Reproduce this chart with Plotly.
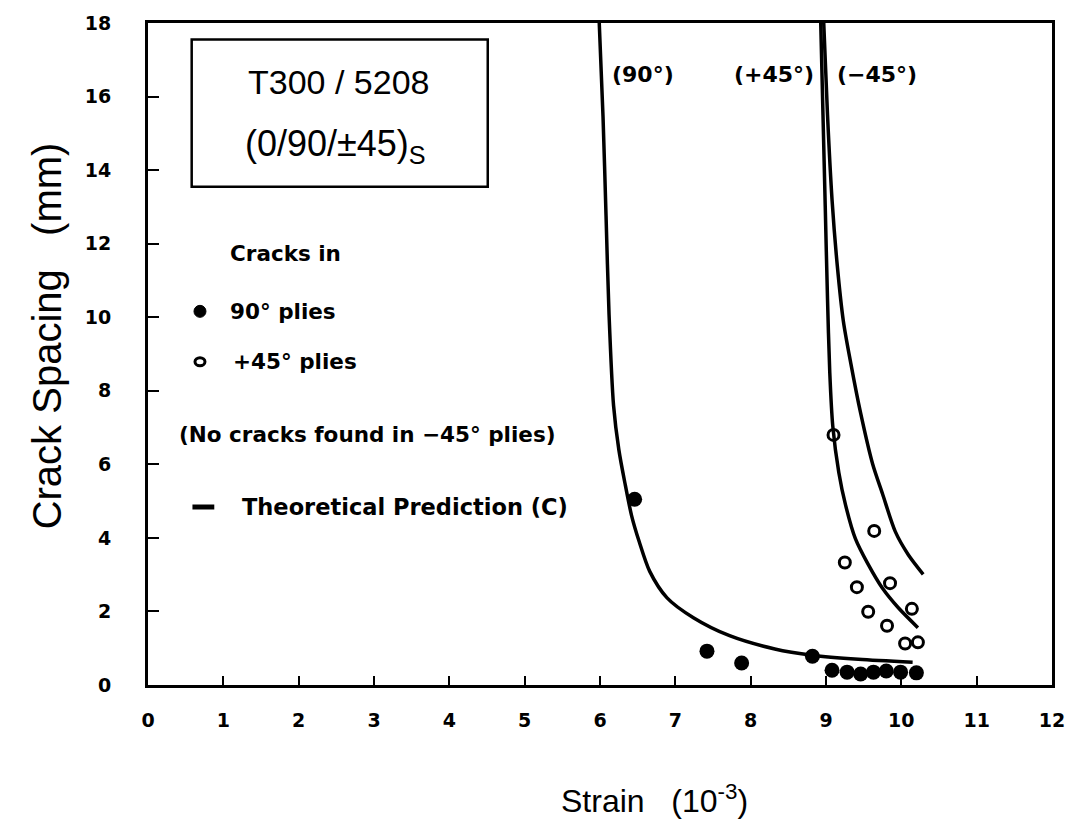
import plotly.graph_objects as go

# ---------------- data ----------------
curve90_x = [5.99, 6.04, 6.08, 6.12, 6.18, 6.25, 6.33, 6.42, 6.52, 6.66, 6.89, 7.24, 7.72, 8.32, 8.82, 9.43, 10.15]
curve90_y = [18.0, 15.46, 12.77, 10.08, 7.6, 6.4, 5.5, 4.6, 3.9, 3.09, 2.37, 1.83, 1.34, 0.98, 0.81, 0.70, 0.62]

curve_p45_x = [8.93, 8.96, 8.99, 9.02, 9.05, 9.09, 9.17, 9.26, 9.39, 9.56, 9.75, 9.96, 10.22]
curve_p45_y = [18.0, 15.5, 13.0, 10.5, 8.5, 7.04, 5.78, 4.89, 3.98, 3.28, 2.63, 2.10, 1.56]

curve_m45_x = [8.97, 9.02, 9.08, 9.15, 9.23, 9.33, 9.46, 9.62, 9.75, 9.92, 10.09, 10.29]
curve_m45_y = [18.0, 15.5, 13.2, 11.4, 9.9, 8.74, 7.39, 6.0, 5.2, 4.17, 3.55, 3.01]

cracks90_x = [6.46, 7.42, 7.88, 8.82, 9.08, 9.28, 9.46, 9.63, 9.80, 9.99, 10.20]
cracks90_y = [5.05, 0.92, 0.60, 0.78, 0.40, 0.35, 0.30, 0.35, 0.38, 0.35, 0.33]

cracks45_x = [9.10, 9.64, 9.25, 9.41, 9.85, 9.56, 10.14, 9.81, 10.05, 10.22]
cracks45_y = [6.80, 4.19, 3.33, 2.66, 2.77, 1.99, 2.07, 1.61, 1.13, 1.16]

x_ticks = list(range(0, 13))
y_ticks = list(range(0, 19, 2))

BOLD = "DejaVu Sans"
PLAIN = "Liberation Sans, Arial, sans-serif"

fig = go.Figure()

for cx, cy in [(curve90_x, curve90_y), (curve_p45_x, curve_p45_y), (curve_m45_x, curve_m45_y)]:
    fig.add_trace(go.Scatter(x=cx, y=cy, mode="lines",
                             line=dict(color="black", width=3.5, shape="spline", smoothing=0.8),
                             showlegend=False, hoverinfo="skip"))

fig.add_trace(go.Scatter(x=cracks90_x, y=cracks90_y, mode="markers",
                         marker=dict(symbol="circle", size=15, color="black"),
                         showlegend=False))
fig.add_trace(go.Scatter(x=cracks45_x, y=cracks45_y, mode="markers",
                         marker=dict(symbol="circle-open", size=11, color="black", line=dict(width=3)),
                         showlegend=False))

# box around the material label
fig.add_shape(type="rect", xref="x", yref="y", x0=0.58, x1=4.51, y0=13.55, y1=17.55,
              line=dict(color="black", width=2.5))

# legend glyphs
fig.add_shape(type="circle", xref="x", yref="y", xsizemode="pixel", ysizemode="pixel",
              xanchor=0.69, yanchor=10.16, x0=-6, x1=6, y0=-6, y1=6,
              fillcolor="black", line=dict(color="black", width=1))
fig.add_shape(type="circle", xref="x", yref="y", xsizemode="pixel", ysizemode="pixel",
              xanchor=0.69, yanchor=8.79, x0=-5, x1=5, y0=-4, y1=4,
              line=dict(color="black", width=3))
fig.add_shape(type="line", xref="x", yref="y", x0=0.59, x1=0.88, y0=4.84, y1=4.84,
              line=dict(color="black", width=5))

def ann(text, x, y, size, family=BOLD, weight="bold", xanchor="left", **kw):
    fig.add_annotation(text=text, x=x, y=y, xref=kw.pop("xref", "x"), yref=kw.pop("yref", "y"),
                       showarrow=False, xanchor=xanchor, yanchor=kw.pop("yanchor", "middle"),
                       font=dict(family=family, size=size, color="black", weight=weight), **kw)

ann("T300 / 5208", 2.53, 16.4, 34, family=PLAIN, weight="normal", xanchor="center")
ann("(0/90/±45)<sub>S</sub>", 2.49, 14.65, 36, family=PLAIN, weight="normal", xanchor="center")
ann("Cracks in", 1.06, 11.72, 21.5)
ann("90° plies", 1.06, 10.16, 21.5)
ann("+45° plies", 1.10, 8.79, 21.5)
ann("(No cracks found in −45° plies)", 0.38, 6.8, 21.5)
ann("Theoretical Prediction (C)", 1.22, 4.84, 22.5)
ann("(90°)", 6.13, 16.6, 22)
ann("(+45°)", 7.75, 16.6, 22)
ann("(−45°)", 9.12, 16.6, 22)

ann("Strain\u00a0\u00a0\u00a0(10<sup>-3</sup>)", 6.72, -0.172, 32, family=PLAIN, weight="normal",
    xanchor="center", yref="paper")
ann("Crack Spacing\u00a0\u00a0\u00a0(mm)", -0.112, 9.5, 40, family=PLAIN, weight="normal",
    xanchor="center", xref="paper", textangle=-90)

axis_common = dict(showline=True, linecolor="black", linewidth=3, mirror=True,
                   ticks="inside", tickcolor="black", tickwidth=2,
                   showgrid=False, zeroline=False,
                   tickfont=dict(family=BOLD, size=19, color="black", weight="bold"))

fig.update_xaxes(range=[0, 12], tickvals=x_ticks, ticklen=9, ticklabelstandoff=16, **axis_common)
fig.update_yaxes(range=[0, 18], tickvals=y_ticks, ticklen=11, ticklabelstandoff=30, **axis_common)

fig.update_layout(width=1077, height=820, margin=dict(l=148, r=16, t=12, b=135),
                  plot_bgcolor="white", paper_bgcolor="white", showlegend=False)

fig.write_html("out.html")
